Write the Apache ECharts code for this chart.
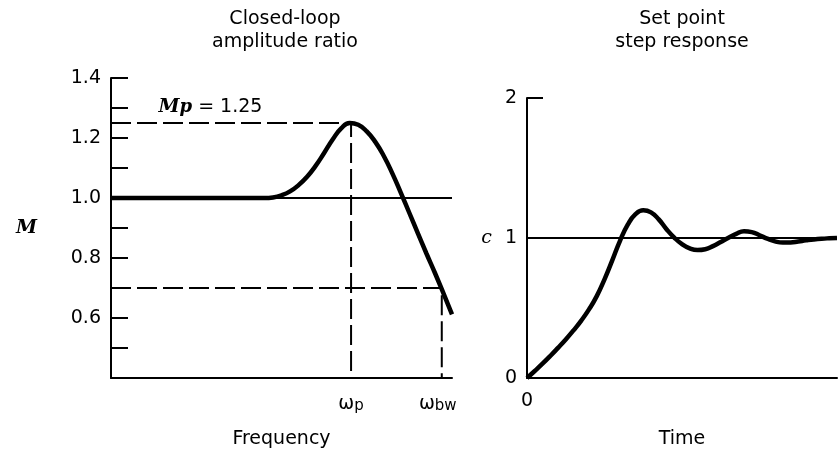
<!DOCTYPE html>
<html><head><meta charset="utf-8">
<script src="https://cdn.jsdelivr.net/npm/echarts@6/dist/echarts.min.js"></script>
<style>html,body{margin:0;padding:0;background:#fff}#c{width:840px;height:454px}</style>
</head><body><div id="c"></div>
<script>
// Left panel: closed-loop amplitude ratio vs frequency (frequency in arbitrary units 0-100)
const freq     = [0, 45, 47.5, 50, 52.5, 55, 57.5, 60, 62.5, 65, 67.5, 70, 72.5, 75, 77.5, 80, 82.5, 85, 87.5, 90, 92.5, 95, 97.5, 100];
const ampRatio = [1.0, 1.0, 1.002, 1.009, 1.022, 1.043, 1.071, 1.107, 1.15, 1.195, 1.232, 1.25, 1.244, 1.222, 1.187, 1.14, 1.082, 1.017, 0.95, 0.882, 0.815, 0.75, 0.682, 0.612];
const Mp = 1.25, wP = 70.4;      // resonant peak
const Mbw = 0.70, wBW = 97;      // bandwidth point
const mTicks = [0.6, 0.8, 1.0, 1.2, 1.4];

// Right panel: set point step response vs time (arbitrary units 0-100)
const time     = [0, 2.5, 5, 7.5, 10, 12.5, 15, 17.5, 20, 22.5, 25, 27.5, 30, 32.5, 35, 37.5, 40, 42.5, 45, 47.5, 50, 52.5, 55, 57.5, 60, 62.5, 65, 67.5, 70, 72.5, 75, 77.5, 80, 82.5, 85, 87.5, 90, 92.5, 95, 97.5, 100];
const stepResp = [0, 0.05, 0.102, 0.157, 0.215, 0.275, 0.34, 0.41, 0.49, 0.585, 0.705, 0.84, 0.98, 1.095, 1.17, 1.198, 1.183, 1.133, 1.063, 1.003, 0.956, 0.926, 0.914, 0.92, 0.942, 0.972, 1.002, 1.03, 1.048, 1.042, 1.02, 0.995, 0.976, 0.967, 0.968, 0.975, 0.983, 0.99, 0.995, 0.998, 1.0];

const F = 'DejaVu Sans';
const FS = 19;
const zip = (a, b) => a.map((v, i) => [v, b[i]]);
const axisLine = {show: true, lineStyle: {color: '#000', width: 2}};
const dash = {color: '#000', width: 2, type: [20, 6]};
const omegaRich = {
  w: {fontFamily: F, fontSize: 19, color: '#000', lineHeight: 16, verticalAlign: 'top'},
  s: {fontFamily: F, fontSize: 15, color: '#000', lineHeight: 16, padding: [7, 0, 0, 0]}
};

const chart = echarts.init(document.getElementById('c'));
chart.setOption({
  animation: false,
  backgroundColor: '#fff',
  grid: [
    {left: 111, top: 78, width: 341, height: 304},
    {left: 527, top: 98, right: 0, height: 284}
  ],
  xAxis: [
    {gridIndex: 0, type: 'value', min: 0, max: 100, axisLine: axisLine, axisTick: {show: false},
     axisLabel: {show: false}, splitLine: {show: false},
     name: 'Frequency', nameLocation: 'middle', nameGap: 52,
     nameTextStyle: {fontFamily: F, fontSize: FS, color: '#000'}},
    {gridIndex: 1, type: 'value', min: 0, max: 100, interval: 100, axisLine: axisLine, axisTick: {show: false},
     axisLabel: {fontFamily: F, fontSize: FS, color: '#000', margin: 14, formatter: v => v === 0 ? '0' : ''},
     splitLine: {show: false},
     name: 'Time', nameLocation: 'middle', nameGap: 52,
     nameTextStyle: {fontFamily: F, fontSize: FS, color: '#000'}}
  ],
  yAxis: [
    {gridIndex: 0, type: 'value', min: 0.4, max: 1.4, interval: 0.1, axisLine: axisLine,
     axisTick: {show: true, inside: true, length: 17, lineStyle: {color: '#000', width: 2}},
     axisLabel: {fontFamily: F, fontSize: FS, color: '#000', margin: 10,
       formatter: v => { const r = Math.round(v * 10) / 10; return mTicks.some(t => Math.abs(t - r) < 1e-6) ? r.toFixed(1) : ''; }},
     splitLine: {show: false},
     name: 'M', nameLocation: 'middle', nameRotate: 0, nameGap: 74,
     nameTextStyle: {fontFamily: 'DejaVu Serif', fontStyle: 'italic', fontWeight: 'bold', fontSize: FS, color: '#000'}},
    {gridIndex: 1, type: 'value', min: 0, max: 2, interval: 1, axisLine: axisLine,
     axisTick: {show: true, inside: true, length: 16, lineStyle: {color: '#000', width: 2}},
     axisLabel: {fontFamily: F, fontSize: FS, color: '#000', margin: 10},
     splitLine: {show: false},
     name: 'c', nameLocation: 'middle', nameRotate: 0, nameGap: 35,
     nameTextStyle: {fontFamily: 'DejaVu Serif', fontStyle: 'italic', fontSize: FS, color: '#000'}}
  ],
  series: [
    {type: 'line', xAxisIndex: 0, yAxisIndex: 0, data: [[0, 1], [100, 1]], symbol: 'none', silent: true,
     lineStyle: {color: '#000', width: 2}, z: 2},
    {type: 'line', xAxisIndex: 0, yAxisIndex: 0, data: [[0, Mp], [wP, Mp], [wP, 0.4]], symbol: 'none',
     lineStyle: dash, z: 2},
    {type: 'line', xAxisIndex: 0, yAxisIndex: 0, data: [[0, Mbw], [wBW, Mbw], [wBW, 0.4]], symbol: 'none',
     lineStyle: dash, z: 2},
    {type: 'line', xAxisIndex: 0, yAxisIndex: 0, data: zip(freq, ampRatio), symbol: 'none', smooth: 0.5,
     lineStyle: {color: '#000', width: 4.5}, z: 5},
    {type: 'scatter', xAxisIndex: 0, yAxisIndex: 0, symbolSize: 1, itemStyle: {color: 'rgba(0,0,0,0)', opacity: 1}, silent: true,
     label: {show: true, color: '#000'},
     data: [
       {value: [wP, 0.4], label: {position: 'bottom', distance: 16, formatter: '{w|ω}{s|p}', rich: omegaRich}},
       {value: [wBW, 0.4], label: {position: 'bottom', distance: 16, offset: [-4, 0], formatter: '{w|ω}{s|bw}', rich: omegaRich}},
       {value: [0, Mp], label: {position: 'right', distance: 5, offset: [42, -16],
         formatter: '{m|M}{p|p}{t| = ' + Mp.toFixed(2) + '}',
         rich: {m: {fontFamily: 'DejaVu Serif', fontStyle: 'italic', fontWeight: 'bold', fontSize: 19, color: '#000'},
                p: {fontFamily: 'DejaVu Serif', fontStyle: 'italic', fontWeight: 'bold', fontSize: 18, color: '#000'},
                t: {fontFamily: F, fontSize: 19, color: '#000'}}}}
     ]},
    {type: 'line', xAxisIndex: 1, yAxisIndex: 1, data: [[0, 1], [100, 1]], symbol: 'none', silent: true,
     lineStyle: {color: '#000', width: 2}, z: 2},
    {type: 'line', xAxisIndex: 1, yAxisIndex: 1, data: zip(time, stepResp), symbol: 'none', smooth: 0.5,
     lineStyle: {color: '#000', width: 4.5}, z: 5}
  ],
  graphic: [
    {type: 'text', x: 285, y: 31, style: {text: 'Closed-loop\namplitude ratio', fontFamily: F, fontSize: FS,
      fill: '#000', align: 'center', textAlign: 'center', verticalAlign: 'middle', textVerticalAlign: 'middle', lineHeight: 23}},
    {type: 'text', x: 682, y: 31, style: {text: 'Set point\nstep response', fontFamily: F, fontSize: FS,
      fill: '#000', align: 'center', textAlign: 'center', verticalAlign: 'middle', textVerticalAlign: 'middle', lineHeight: 23}}
  ]
});
</script></body></html>
